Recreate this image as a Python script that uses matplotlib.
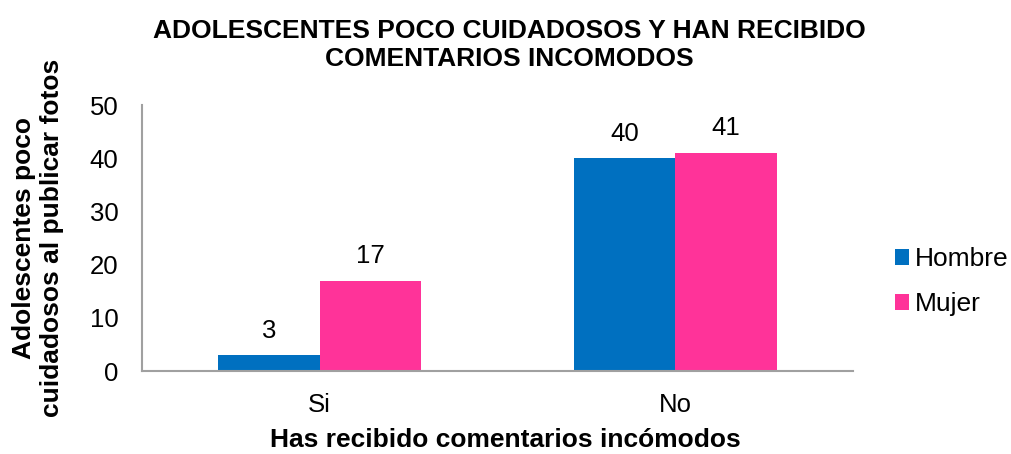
import matplotlib
matplotlib.use("Agg")
import matplotlib.pyplot as plt
import numpy as np

plt.rcParams['font.family'] = ['Liberation Sans', 'DejaVu Sans']

categories = ["Si", "No"]
series_names = ["Hombre", "Mujer"]
hombre = [3, 40]
mujer = [17, 41]
colors = ["#0070C0", "#FF3399"]

fig = plt.figure(figsize=(10.12, 4.54), dpi=100)
ax = fig.add_axes([0.1403, 0.1828, 0.7026, 0.5859])

x = np.arange(len(categories))
w = 0.285
b1 = ax.bar(x - w/2, hombre, w, color=colors[0], label=series_names[0])
b2 = ax.bar(x + w/2, mujer, w, color=colors[1], label=series_names[1])

for bars, vals in ((b1, hombre), (b2, mujer)):
    for r, v in zip(bars, vals):
        ax.annotate(str(v), (r.get_x() + r.get_width()/2, r.get_height()),
                    xytext=(0, 9), textcoords="offset points",
                    ha="center", va="bottom", fontsize=18.5)

ax.set_xlim(-0.5, 1.5)
ax.set_ylim(0, 50)
ax.set_yticks([0, 10, 20, 30, 40, 50])
ax.set_xticks(x)
ax.set_xticklabels(categories)
ax.tick_params(axis="both", length=0, labelsize=18.5)
ax.tick_params(axis="x", pad=16)
ax.tick_params(axis="y", pad=17)
for s in ("top", "right"):
    ax.spines[s].set_visible(False)
for s in ("left", "bottom"):
    ax.spines[s].set_color("#A0A0A0")
    ax.spines[s].set_linewidth(1.5)

fig.text(0.503, 0.9, "ADOLESCENTES POCO CUIDADOSOS Y HAN RECIBIDO\nCOMENTARIOS INCOMODOS",
         ha="center", va="center", fontsize=19, fontweight="bold", linespacing=1.2)
fig.text(0.499, 0.031, "Has recibido comentarios incómodos", ha="center", va="center",
         fontsize=19, fontweight="bold")
fig.text(0.0375, 0.476, "Adolescentes poco\ncuidadosos al publicar fotos", ha="center", va="center",
         rotation=90, fontsize=19, fontweight="bold", linespacing=1.25)

leg = fig.legend(handles=[b1, b2], labels=series_names, loc="center left",
                 bbox_to_anchor=(0.8844, 0.379), frameon=False,
                 fontsize=19, handlelength=0.53, handleheight=0.53, handletextpad=0.23,
                 labelspacing=0.8, borderpad=0, borderaxespad=0)

fig.savefig("out.png", dpi=100)
